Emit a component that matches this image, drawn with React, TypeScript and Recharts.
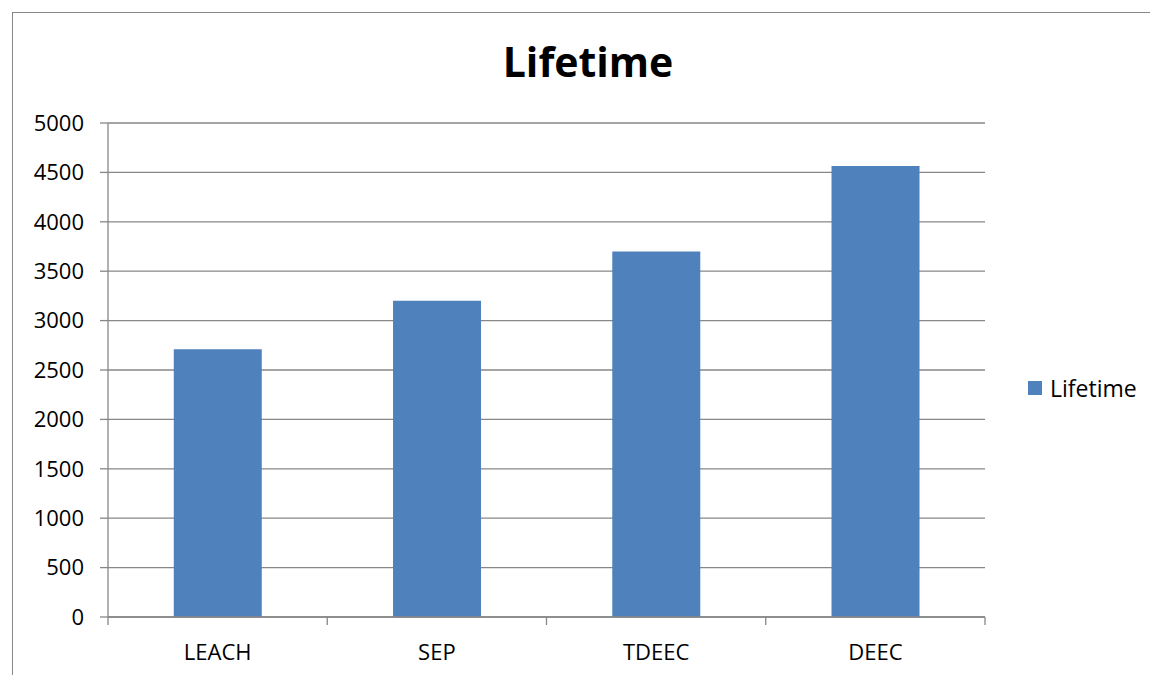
import { BarChart, Bar, XAxis, YAxis, CartesianGrid } from 'recharts'

const categories = ['LEACH', 'SEP', 'TDEEC', 'DEEC']
const lifetime = [2710, 3200, 3700, 4565]
const yTicks = [0, 500, 1000, 1500, 2000, 2500, 3000, 3500, 4000, 4500, 5000]

const data = categories.map((name, i) => ({ name, lifetime: lifetime[i] }))

const font = '"Open Sans", sans-serif'
const gray = '#878787'
const barColor = '#4F81BD'
const TICK_SIZE = 8
const TICK_MARGIN = 19

// category label, plus tick marks on the category boundaries (Excel style)
function CategoryTick(props: any) {
  const { x, y, payload, index, visibleTicksCount } = props
  const half = payload?.offset ?? 0
  const top = y - TICK_MARGIN - TICK_SIZE
  const bottom = y - TICK_MARGIN
  const last = index === visibleTicksCount - 1
  return (
    <g>
      <line x1={x - half} x2={x - half} y1={top} y2={bottom} stroke={gray} strokeWidth={1.3} />
      {last && (
        <line x1={x + half} x2={x + half} y1={top} y2={bottom} stroke={gray} strokeWidth={1.3} />
      )}
      <text
        x={x}
        y={y}
        dy="0.71em"
        textAnchor="middle"
        fill="#000"
        fontSize={22}
        fontFamily={font}
      >
        {payload.value}
      </text>
    </g>
  )
}

export default function App() {
  return (
    <div
      style={{
        position: 'absolute',
        left: 0,
        top: 0,
        width: 1150,
        height: 675,
        overflow: 'hidden',
        background: '#fff',
        fontFamily: font,
      }}
    >
      <div
        style={{
          position: 'absolute',
          left: 12,
          top: 12,
          width: 1300,
          height: 800,
          border: `1.5px solid ${gray}`,
        }}
      />
      <div
        style={{
          position: 'absolute',
          left: 0,
          width: 1176,
          top: 41,
          textAlign: 'center',
          fontSize: 41,
          fontWeight: 700,
          lineHeight: 1,
          color: '#000',
        }}
      >
        Lifetime
      </div>
      <div style={{ position: 'absolute', left: 0, top: 0 }}>
        <BarChart
          width={1150}
          height={675}
          data={data}
          margin={{ top: 123, right: 165, left: 0, bottom: 18 }}
          barCategoryGap="30%"
        >
          <CartesianGrid vertical={false} stroke={gray} strokeWidth={1.3} />
          <XAxis
            dataKey="name"
            height={40}
            interval={0}
            tickLine={false}
            tickSize={TICK_SIZE}
            tickMargin={TICK_MARGIN}
            axisLine={{ stroke: gray, strokeWidth: 1.3 }}
            tick={CategoryTick}
          />
          <YAxis
            width={108}
            domain={[0, 5000]}
            ticks={yTicks}
            interval={0}
            tickSize={8}
            tickMargin={16}
            axisLine={{ stroke: gray, strokeWidth: 1.3 }}
            tickLine={{ stroke: gray, strokeWidth: 1.3 }}
            tick={{ fill: '#000', fontSize: 22, fontFamily: font }}
          />
          <Bar dataKey="lifetime" fill={barColor} isAnimationActive={false} />
        </BarChart>
      </div>
      <div
        style={{
          position: 'absolute',
          left: 1028,
          top: 376,
          height: 24,
          display: 'flex',
          alignItems: 'center',
          fontSize: 23,
          color: '#000',
        }}
      >
        <span style={{ width: 14, height: 14, background: barColor, marginRight: 8 }} />
        Lifetime
      </div>
    </div>
  )
}
